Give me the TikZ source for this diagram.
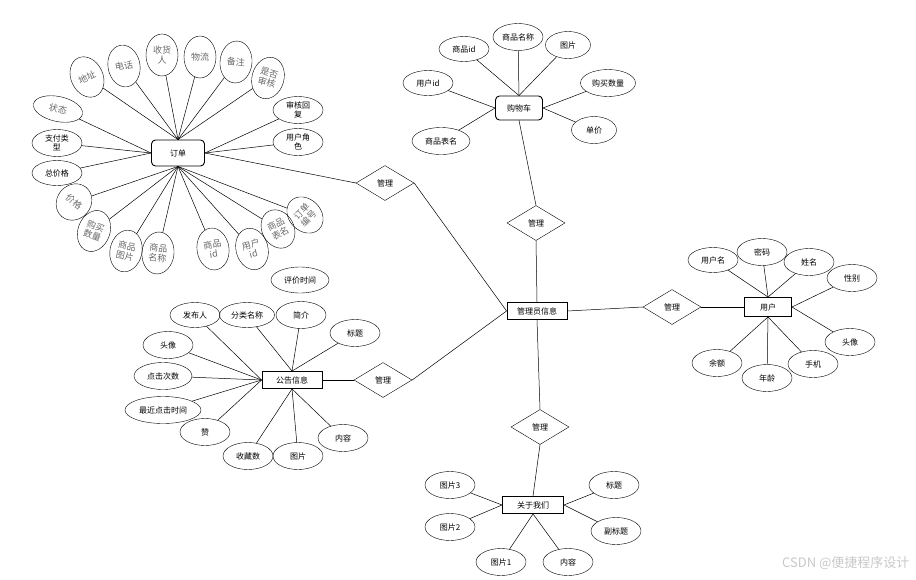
\documentclass[tikz,border=0pt]{standalone}
\usepackage{fontspec}
\setmainfont{Noto Sans CJK SC}
\usetikzlibrary{shapes.geometric, positioning}
\definecolor{attrgray}{RGB}{105,105,105}
\definecolor{markgray}{RGB}{200,200,200}

\begin{document}
\begin{tikzpicture}[x=1pt, y=-1pt, line cap=round,
        entity/.style={draw, line width=0.9pt, minimum width=60pt, minimum height=17pt, inner sep=1pt, font=\fontsize{8}{9}\selectfont},
        rentity/.style={entity, rounded corners=4pt, minimum width=53pt, minimum height=26pt},
        rel/.style={draw, diamond, aspect=1.65, minimum width=58pt, minimum height=35pt, inner sep=0pt, font=\fontsize{8}{9}\selectfont},
        attr/.style={draw, ellipse, minimum width=50pt, minimum height=27pt, inner sep=0pt, align=center, font=\fontsize{8}{9}\selectfont},
        oattr/.style={draw, ellipse, minimum width=32pt, minimum height=42pt, inner sep=0pt, align=center, text=attrgray, font=\fontsize{9}{10}\selectfont},
        link/.style={line width=0.5pt}]
        \useasboundingbox (0,0) rectangle (916,579);
        %\draw [step=50, very thin, lightgray] (0,0) grid (916,579);

        % entities
        \node [rentity] (order) at (178,153) {订单};
        \node [rentity, minimum width=47pt, minimum height=24pt] (cart) at (519,108) {购物车};
        \node [entity] (admin) at (537,311) {管理员信息};
        \node [entity, minimum width=47pt, minimum height=19pt] (user) at (768,307) {用户};
        \node [entity] (notice) at (292,380) {公告信息};
        \node [entity, minimum width=61pt] (about) at (533,505) {关于我们};

        % relations
        \node [rel] (mOrder) at (385,183) {管理};
        \node [rel] (mCart) at (536,223) {管理};
        \node [rel] (mUser) at (672,307) {管理};
        \node [rel] (mNotice) at (383,380) {管理};
        \node [rel] (mAbout) at (540,427) {管理};

        % order attributes
        \node [oattr, rotate=25] (oAddr) at (87,77) {地址};
        \node [oattr, rotate=10] (oTel) at (124,66) {电话};
        \node [oattr] (oRecv) at (162,55) {收货\\人};
        \node [oattr] (oShip) at (200,57) {物流};
        \node [oattr, rotate=-5] (oNote) at (236,62) {备注};
        \node [oattr, rotate=-15] (oAudit) at (268,78) {是否\\审核};
        \node [oattr, minimum width=50pt, minimum height=25pt, rotate=-12] (oState) at (58,109) {状态};
        \node [attr] (oReply) at (298,110) {审核回\\复};
        \node [attr] (oPay) at (57,143) {支付类\\型};
        \node [attr] (oRole) at (298,142) {用户角\\色};
        \node [attr, minimum height=25pt] (oTotal) at (57,173) {总价格};
        \node [oattr, minimum width=34pt, minimum height=38pt, rotate=-40] (oPrice) at (74,202) {价格};
        \node [oattr, rotate=-20] (oNum) at (94,231) {购买\\数量};
        \node [oattr, rotate=-12] (oPic) at (126,251) {商品\\图片};
        \node [oattr, rotate=-6] (oName) at (158,253) {商品\\名称};
        \node [oattr, rotate=8] (oGid) at (213,249) {商品\\id};
        \node [oattr, rotate=15] (oUid) at (252,249) {用户\\id};
        \node [oattr, minimum height=40pt, rotate=28] (oTable) at (278,229) {商品\\表名};
        \node [oattr, minimum height=40pt, rotate=45] (oNo) at (305,215) {订单\\编号};
        \node [attr, minimum width=58pt, minimum height=26pt] (oEval) at (300,280) {评价时间};

        % cart attributes
        \node [attr, minimum height=25pt] (cGid) at (464,49) {商品id};
        \node [attr] (cName) at (518,37) {商品名称};
        \node [attr, minimum width=45pt] (cPic) at (568,45) {图片};
        \node [attr, minimum height=25pt] (cUid) at (428,83) {用户id};
        \node [attr, minimum width=55pt] (cNum) at (608,83) {购买数量};
        \node [attr, minimum width=45pt] (cPrice) at (594,130) {单价};
        \node [attr, minimum width=58pt] (cTable) at (441,141) {商品表名};

        % user attributes
        \node [attr, minimum height=25pt] (uName) at (713,260) {用户名};
        \node [attr] (uPwd) at (762,252) {密码};
        \node [attr] (uReal) at (809,262) {姓名};
        \node [attr] (uSex) at (852,278) {性别};
        \node [attr] (uHead) at (850,342) {头像};
        \node [attr] (uTel) at (813,364) {手机};
        \node [attr] (uAge) at (767,378) {年龄};
        \node [attr] (uMoney) at (717,363) {余额};

        % notice attributes
        \node [attr, minimum height=25pt] (nAuthor) at (195,315) {发布人};
        \node [attr, minimum width=55pt, minimum height=25pt] (nType) at (247,315) {分类名称};
        \node [attr] (nIntro) at (301,315) {简介};
        \node [attr] (nTitle) at (355,333) {标题};
        \node [attr] (nHead) at (168,345) {头像};
        \node [attr, minimum width=58pt] (nClick) at (163,376) {点击次数};
        \node [attr, minimum width=76pt] (nLast) at (163,410) {最近点击时间};
        \node [attr] (nLike) at (205,432) {赞};
        \node [attr] (nFav) at (248,456) {收藏数};
        \node [attr] (nPic) at (298,456) {图片};
        \node [attr] (nText) at (343,438) {内容};

        % about attributes
        \node [attr] (aPic3) at (450,485) {图片3};
        \node [attr] (aPic2) at (450,527) {图片2};
        \node [attr] (aPic1) at (501,562) {图片1};
        \node [attr] (aText) at (568,562) {内容};
        \node [attr] (aTitle) at (614,485) {标题};
        \node [attr] (aSub) at (616,531) {副标题};

        % connectors
        \foreach \a in {oAddr,oTel,oRecv,oShip,oNote,oAudit}
            \draw [link] (order.north) -- (\a);
        \foreach \a in {oState,oPay,oTotal}
            \draw [link] (order.west) -- (\a);
        \foreach \a in {oReply,oRole}
            \draw [link] (order.east) -- (\a);
        \foreach \a in {oPrice,oNum,oPic,oName,oGid,oUid,oTable,oNo}
            \draw [link] (order.south) -- (\a);
        \foreach \a in {cGid,cName,cPic}
            \draw [link] (cart.north) -- (\a);
        \foreach \a in {cUid,cTable}
            \draw [link] (cart.west) -- (\a);
        \foreach \a in {cNum,cPrice}
            \draw [link] (cart.east) -- (\a);
        \foreach \a in {uName,uPwd,uReal}
            \draw [link] (user.north) -- (\a);
        \foreach \a in {uSex,uHead}
            \draw [link] (user.east) -- (\a);
        \foreach \a in {uTel,uAge,uMoney}
            \draw [link] (user.south) -- (\a);
        \foreach \a in {nType,nIntro,nTitle}
            \draw [link] (notice.north) -- (\a);
        \foreach \a in {nAuthor,nHead,nClick,nLast,nLike}
            \draw [link] (notice.west) -- (\a);
        \foreach \a in {nFav,nPic,nText}
            \draw [link] (notice.south) -- (\a);
        \foreach \a in {aPic3,aPic2}
            \draw [link] (about.west) -- (\a);
        \foreach \a in {aTitle,aSub}
            \draw [link] (about.east) -- (\a);
        \foreach \a in {aPic1,aText}
            \draw [link] (about.south) -- (\a);

        \draw [link] (order.east) -- (mOrder.west);
        \draw [link] (mOrder.east) -- (admin.west);
        \draw [link] (cart.south) -- (mCart.north);
        \draw [link] (mCart.south) -- (admin.north);
        \draw [link] (admin.east) -- (mUser.west);
        \draw [link] (mUser.east) -- (user.west);
        \draw [link] (notice.east) -- (mNotice.west);
        \draw [link] (mNotice.east) -- (admin.west);
        \draw [link] (admin.south) -- (mAbout.north);
        \draw [link] (mAbout.south) -- (about.north);

        \node [text=markgray, font=\fontsize{13}{14}\selectfont, anchor=east] (mark) at (913,563) {CSDN @便捷程序设计};
    \end{tikzpicture}
\end{document}
